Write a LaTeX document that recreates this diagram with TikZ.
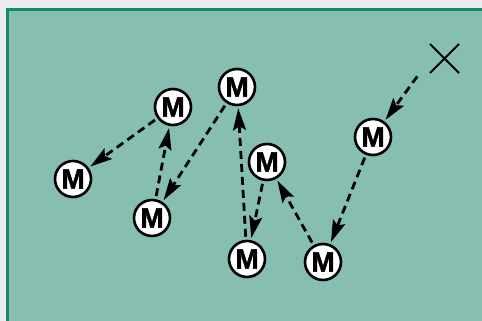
\documentclass[tikz,border=0pt]{standalone}
\usepackage{fontspec}
\setmainfont{Liberation Sans}
\newfontfamily\mfont[FakeBold=1.5]{Liberation Sans Bold}
\usetikzlibrary{arrows.meta}
\definecolor{bgfill}{HTML}{86BEB2}
\definecolor{bordgreen}{HTML}{138A6E}
\definecolor{margin}{HTML}{ECECEE}
\begin{document}
\begin{tikzpicture}[x=1pt,y=-1pt,
  mnode/.style={circle,draw=black,line width=2.6pt,fill=white,minimum size=36pt,inner sep=0pt,font=\mfont\fontsize{28}{28}\selectfont},
  link/.style={dash pattern=on 8pt off 5pt,line width=2.8pt,-{Stealth[length=22pt,width=13pt,inset=4pt]},shorten >=2pt,shorten <=3pt}]
\useasboundingbox (0,0) rectangle (482,321);
\fill[margin] (0,0) rectangle (482,321);
\fill[bgfill] (7,9) rectangle (482,321);
\draw[bordgreen,line width=2.8pt] (7.4,321) -- (7.4,9.4) -- (482,9.4);
\node[mnode] (m1) at (73,179) {M};
\node[mnode] (m2) at (173,107) {M};
\node[mnode] (m3) at (152,218) {M};
\node[mnode] (m4) at (237,87) {M};
\node[mnode] (m5) at (267,162) {M};
\node[mnode] (m6) at (247,259) {M};
\node[mnode] (m7) at (323,262) {M};
\node[mnode] (m8) at (373,137) {M};
\draw[line width=2pt] (430,44) -- (459,73) (430,73) -- (459,44);
\coordinate (xs) at (419,74);
\draw[link] (xs) -- (m8);
\draw[link] (m8) -- (m7);
\draw[link] (m7) -- (m5);
\draw[link] (m5) -- (m6);
\draw[link] (m6) -- (m4);
\draw[link] (m4) -- (m3);
\draw[link] (m3) -- (m2);
\draw[link] (m2) -- (m1);
\end{tikzpicture}
\end{document}
